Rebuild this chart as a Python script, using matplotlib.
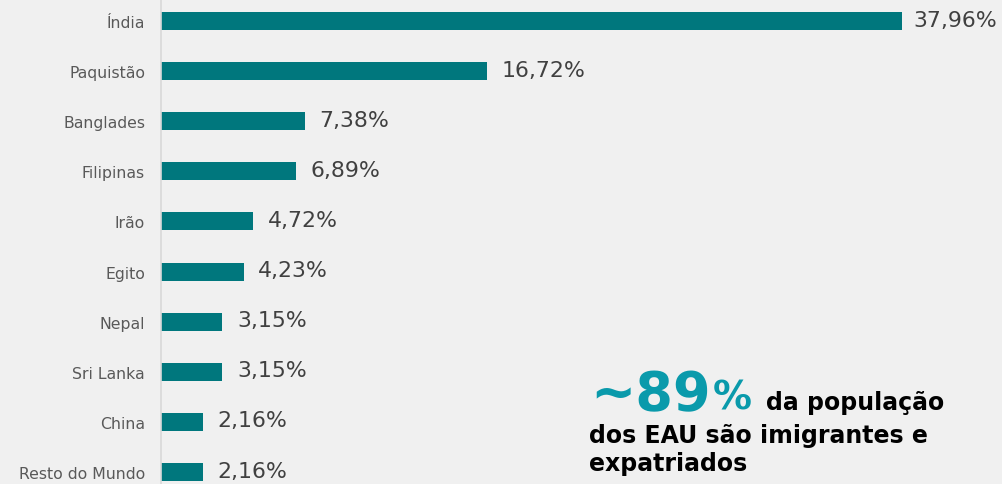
import matplotlib.pyplot as plt

plt.rcParams["font.family"] = ["DejaVu Sans"]

paises = ["Índia", "Paquistão", "Banglades", "Filipinas", "Irão", "Egito",
          "Nepal", "Sri Lanka", "China", "Resto do Mundo"]
valores = [37.96, 16.72, 7.38, 6.89, 4.72, 4.23, 3.15, 3.15, 2.16, 2.16]
rotulos = ["37,96%", "16,72%", "7,38%", "6,89%", "4,72%", "4,23%",
           "3,15%", "3,15%", "2,16%", "2,16%"]

bg = "#f0f0f0"
teal = "#00777d"
W, H = 1002, 485

fig = plt.figure(figsize=(W / 100, H / 100), dpi=100, facecolor=bg)
ax = fig.add_axes([161 / W, 0, 1 - 161 / W, 1], facecolor=bg)

y = list(range(len(paises)))
ax.barh(y, valores, height=0.36, color=teal, edgecolor="none")
for i, v in enumerate(valores):
    dx = 8.5 if i == 0 else 10.5
    ax.annotate(rotulos[i], (v, i), xytext=(dx, 1), textcoords="offset points",
                va="center", ha="left", fontsize=15.8, color="#404040")

ax.set_xlim(0, 43.08)
ax.set_ylim(9.24, -0.44)
ax.set_yticks(y)
ax.set_yticklabels(paises, fontsize=11.3, color="#595959")
ax.tick_params(axis="y", length=0, pad=11.5)
ax.set_xticks([])
for s in ["top", "right", "bottom"]:
    ax.spines[s].set_visible(False)
ax.spines["left"].set_color("#d9d9d9")
ax.spines["left"].set_linewidth(1.2)

# caixa de texto
def fy(p):
    return 1 - p / H

t1 = fig.text(590 / W, fy(410), "~89", fontsize=39, fontweight="bold",
              color="#0a9aab", va="baseline")
fig.canvas.draw()
r = fig.canvas.get_renderer()
x1 = t1.get_window_extent(r).x1
t2 = fig.text(x1 / W + 2 / W, fy(410), "%", fontsize=28, fontweight="bold",
              color="#0a9aab", va="baseline")
fig.canvas.draw()
x2 = t2.get_window_extent(r).x1
fig.text(x2 / W + 14 / W, fy(410), "da população", fontsize=17,
         fontweight="bold", color="black", va="baseline")
fig.text(589 / W, fy(443), "dos EAU são imigrantes e", fontsize=17,
         fontweight="bold", color="black", va="baseline")
fig.text(589 / W, fy(471), "expatriados", fontsize=17,
         fontweight="bold", color="black", va="baseline")

fig.savefig("out.png", dpi=100, facecolor=bg)
